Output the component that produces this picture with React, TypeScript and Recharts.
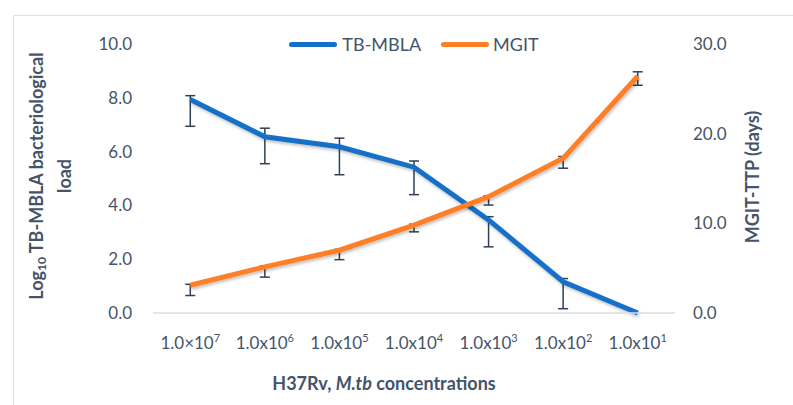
import { ComposedChart, Line, XAxis, YAxis, ErrorBar } from 'recharts';

const categories = ['1.0×10', '1.0x10', '1.0x10', '1.0x10', '1.0x10', '1.0x10', '1.0x10'];
const exponents = ['7', '6', '5', '4', '3', '2', '1'];
const tbMbla = [7.94, 6.55, 6.18, 5.42, 3.46, 1.16, 0.0];
const tbMblaErrLow = [1.0, 1.0, 1.04, 1.02, 1.0, 1.0, 0];
const tbMblaErrHigh = [0.14, 0.32, 0.32, 0.23, 0.12, 0.12, 0];
const mgit = [3.1, 5.15, 7.0, 9.8, 12.97, 17.25, 26.4];
const mgitErrLow = [1.15, 1.15, 1.05, 0.75, 0.93, 1.1, 1.0];
const mgitErrHigh = [0.1, 0.1, 0.1, 0.1, 0.1, 0.2, 0.5];
const leftTicks = [0, 2, 4, 6, 8, 10];
const rightTicks = [0, 10, 20, 30];
const seriesNames = ['TB-MBLA', 'MGIT'];

// an error of 0/0 means no error bar is drawn
const err = (lo: number, hi: number) => (lo === 0 && hi === 0 ? null : [lo, hi]);

const data = categories.map((c, i) => ({
  name: c + exponents[i],
  base: c,
  exp: exponents[i],
  tb: tbMbla[i],
  tbErr: err(tbMblaErrLow[i], tbMblaErrHigh[i]),
  mgit: mgit[i],
  mgitErr: err(mgitErrLow[i], mgitErrHigh[i]),
}));

const TEXT = '#44546a';
const BLUE = '#1570c8';
const ORANGE = '#ff7f27';
const ERR = '#2f3f55';
const FONT = 'Lato, sans-serif';

const XTick = (props: any) => {
  const { x, y, index } = props;
  const d = data[index];
  return (
    <text x={x} y={y + 34} textAnchor="middle" fill={TEXT} fontSize={17} fontFamily={FONT}>
      <tspan>{d.base}</tspan>
      <tspan dy={-7} fontSize={11}>{d.exp}</tspan>
    </text>
  );
};

export default function App() {
  return (
    <div style={{ position: 'absolute', left: 0, top: 0, width: 793, height: 405, background: '#fff', overflow: 'hidden' }}>
      <div style={{ position: 'absolute', left: 13, top: 15, width: 800, height: 400, borderTop: '1px solid #d9e1ea', borderLeft: '1px solid #d9e1ea' }} />
      <div style={{ position: 'absolute', left: 153, top: 33, width: 522, display: 'flex', justifyContent: 'center', alignItems: 'center', fontFamily: FONT, fontSize: 18, color: TEXT }}>
        <span style={{ display: 'inline-block', width: 48, height: 5, borderRadius: 3, background: BLUE, marginRight: 5 }} />
        <span style={{ marginRight: 20 }}>{seriesNames[0]}</span>
        <span style={{ display: 'inline-block', width: 48, height: 5, borderRadius: 3, background: ORANGE, marginRight: 4 }} />
        <span>{seriesNames[1]}</span>
      </div>
      <ComposedChart width={793} height={405} data={data} margin={{ top: 44, bottom: 52, left: 93, right: 58 }}>
        <defs>
          <filter id="shadow" x="-10%" y="-10%" width="120%" height="130%">
            <feDropShadow dx="1" dy="2" stdDeviation="1.5" floodColor="#000" floodOpacity="0.25" />
          </filter>
        </defs>
        <XAxis
          dataKey="name"
          scale="band"
          tick={<XTick />}
          tickLine={false}
          tickSize={0}
          height={40}
          axisLine={{ stroke: '#d9dde3', strokeWidth: 1.5 }}
          interval={0}
        />
        <YAxis
          yAxisId="left"
          width={60}
          domain={[0, 10]}
          ticks={leftTicks}
          tickFormatter={(v: number) => v.toFixed(1)}
          axisLine={false}
          tickLine={false}
          tickSize={0}
          tickMargin={21}
          tick={{ fill: TEXT, fontSize: 17, fontFamily: FONT }}
        />
        <YAxis
          yAxisId="right"
          orientation="right"
          width={60}
          domain={[0, 30]}
          ticks={rightTicks}
          tickFormatter={(v: number) => v.toFixed(1)}
          axisLine={false}
          tickLine={false}
          tickSize={0}
          tickMargin={18}
          tick={{ fill: TEXT, fontSize: 17, fontFamily: FONT, textAnchor: 'start' }}
        />
        <Line
          yAxisId="left"
          dataKey="tb"
          name={seriesNames[0]}
          stroke={BLUE}
          strokeWidth={5}
          dot={false}
          activeDot={false}
          filter="url(#shadow)"
          isAnimationActive={false}
        >
          <ErrorBar dataKey="tbErr" direction="y" width={5} stroke={ERR} strokeWidth={1.5} isAnimationActive={false} />
        </Line>
        <Line
          yAxisId="right"
          dataKey="mgit"
          name={seriesNames[1]}
          stroke={ORANGE}
          strokeWidth={5}
          dot={false}
          activeDot={false}
          filter="url(#shadow)"
          isAnimationActive={false}
        >
          <ErrorBar dataKey="mgitErr" direction="y" width={5} stroke={ERR} strokeWidth={1.5} isAnimationActive={false} />
        </Line>
      </ComposedChart>
      <div style={{ position: 'absolute', left: 50, top: 176, transform: 'translate(-50%, -50%) rotate(-90deg)', whiteSpace: 'nowrap', textAlign: 'center', fontFamily: FONT, fontWeight: 700, fontSize: 18, color: TEXT, lineHeight: '22px' }}>
        <div>Log<sub style={{ fontSize: 12, verticalAlign: '-3px' }}>10</sub> TB-MBLA bacteriological</div>
        <div>load</div>
      </div>
      <div style={{ position: 'absolute', left: 752, top: 177, transform: 'translate(-50%, -50%) rotate(-90deg)', whiteSpace: 'nowrap', fontFamily: FONT, fontWeight: 700, fontSize: 18, color: TEXT }}>
        MGIT-TTP (days)
      </div>
      <div style={{ position: 'absolute', left: 384, top: 383, transform: 'translate(-50%, -50%)', whiteSpace: 'nowrap', fontFamily: FONT, fontWeight: 700, fontSize: 18, color: TEXT }}>
        H37Rv, <i>M.tb</i> concentrations
      </div>
    </div>
  );
}
